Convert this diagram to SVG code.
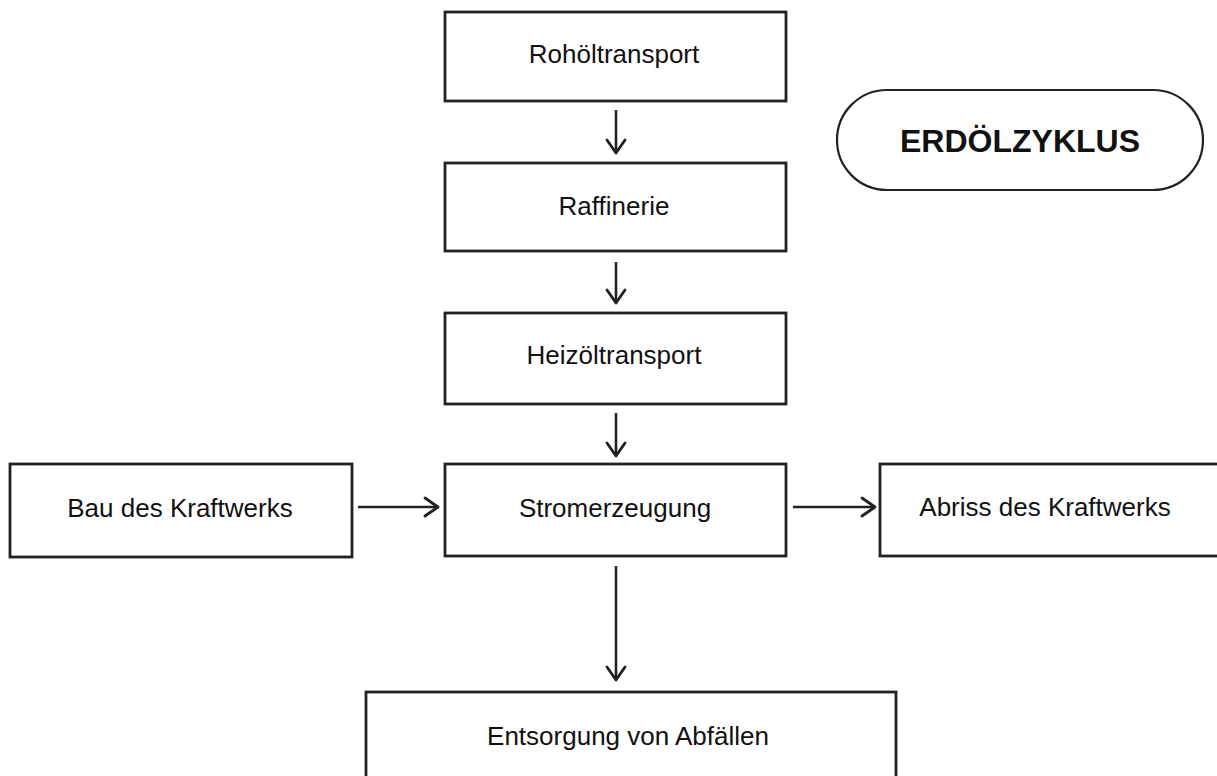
<svg xmlns="http://www.w3.org/2000/svg" width="1217" height="776" viewBox="0 0 1217 776">
<style>
.box{fill:#fff;stroke:#222;stroke-width:2.8}
.lbl{font-family:"Liberation Sans",Arial,sans-serif;font-size:26px;fill:#111;text-anchor:middle}
.title{font-family:"Liberation Sans",Arial,sans-serif;font-size:32px;font-weight:bold;fill:#111;text-anchor:middle}
.conn{fill:none;stroke:#222;stroke-width:2.6}
.head{fill:none;stroke:#222;stroke-width:2.8;stroke-linecap:round;stroke-linejoin:round}
</style>
<rect width="1217" height="776" fill="#fff"/>
<g id="n-rohoel"><rect class="box" x="445" y="12" width="341" height="89"/><text class="lbl" x="614" y="63">Rohöltransport</text></g>
<g id="n-raffinerie"><rect class="box" x="445" y="163" width="341" height="88"/><text class="lbl" x="614" y="215">Raffinerie</text></g>
<g id="n-heizoel"><rect class="box" x="445" y="313" width="341" height="91"/><text class="lbl" x="614" y="364">Heizöltransport</text></g>
<g id="n-strom"><rect class="box" x="445" y="464" width="341" height="92"/><text class="lbl" x="615" y="517">Stromerzeugung</text></g>
<g id="n-bau"><rect class="box" x="10" y="464" width="342" height="93"/><text class="lbl" x="180" y="517">Bau des Kraftwerks</text></g>
<g id="n-abriss"><rect class="box" x="880" y="464" width="350" height="92"/><text class="lbl" x="1045" y="516">Abriss des Kraftwerks</text></g>
<g id="n-entsorgung"><rect class="box" x="366" y="692" width="530" height="110"/><text class="lbl" x="628" y="745">Entsorgung von Abfällen</text></g>
<g id="n-title"><rect class="box" x="837" y="90" width="366" height="100" rx="50" ry="50" style="stroke-width:2.2"/><text class="title" x="1020" y="152">ERDÖLZYKLUS</text></g>
<g id="connectors">
<path class="conn" d="M616 110V152"/><path class="head" d="M607 140L616 153L625 140"/>
<path class="conn" d="M616 262V302"/><path class="head" d="M607 290L616 303L625 290"/>
<path class="conn" d="M616 413V455"/><path class="head" d="M607 443L616 456L625 443"/>
<path class="conn" d="M616 566V679"/><path class="head" d="M607 667L616 680L625 667"/>
<path class="conn" d="M358 507H437"/><path class="head" d="M425 498L438 507L425 516"/>
<path class="conn" d="M793 507H874"/><path class="head" d="M862 498L875 507L862 516"/>
</g>
</svg>
